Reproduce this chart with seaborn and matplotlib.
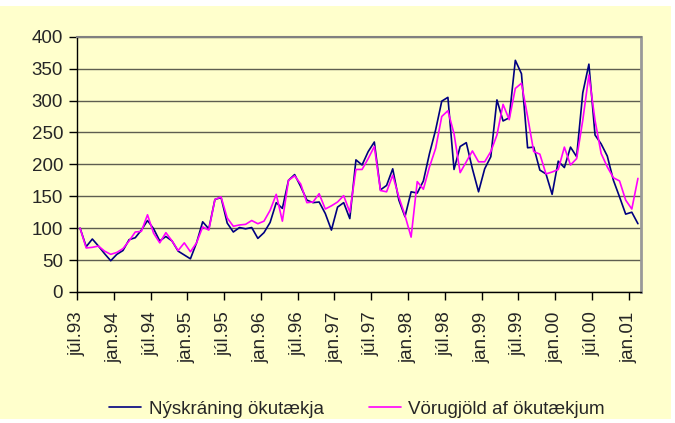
import numpy as np
import pandas as pd
import matplotlib.pyplot as plt
import matplotlib.patches as mpatches
import seaborn as sns

# monthly index, júl.93 = 100
nyskraning = [100, 71, 83, 72, 60, 49, 59, 65, 82, 85, 97, 112, 99, 80, 87, 80, 64, 58, 52, 77,
              110, 99, 145, 148, 108, 94, 101, 99, 101, 84, 93, 109, 140, 131, 175, 184, 165, 144, 140, 141,
              123, 97, 133, 140, 115, 207, 199, 220, 235, 160, 167, 193, 144, 118, 157, 155, 174, 217, 254, 299,
              305, 192, 228, 234, 193, 157, 193, 212, 301, 268, 273, 363, 342, 226, 227, 191, 185, 153, 205, 195,
              227, 212, 312, 357, 246, 232, 213, 175, 149, 122, 125, 107]
vorugjold = [100, 69, 70, 72, 64, 59, 62, 68, 80, 94, 95, 121, 92, 77, 93, 80, 65, 77, 63, 77,
             102, 97, 145, 149, 116, 103, 105, 106, 112, 107, 111, 128, 153, 111, 175, 182, 169, 140, 141, 154,
             130, 135, 141, 151, 125, 192, 192, 209, 228, 159, 157, 183, 149, 120, 86, 173, 161, 196, 225, 275,
             284, 248, 187, 204, 221, 204, 204, 220, 246, 294, 270, 319, 327, 275, 220, 216, 185, 188, 192, 227,
             199, 209, 269, 340, 269, 217, 196, 179, 174, 144, 130, 178]
tick_labels = ["júl.93", "jan.94", "júl.94", "jan.95", "júl.95", "jan.96", "júl.96", "jan.97",
               "júl.97", "jan.98", "júl.98", "jan.99", "júl.99", "jan.00", "júl.00", "jan.01"]
series_names = ["Nýskráning ökutækja", "Vörugjöld af ökutækjum"]
colors = ["#000080", "#FF00FF"]

n = len(nyskraning)
df = pd.DataFrame({
    "month": np.concatenate([np.arange(n), np.arange(n)]),
    "value": nyskraning + vorugjold,
    "series": [series_names[0]] * n + [series_names[1]] * n,
})

sns.set_style("white")
plt.rcParams['font.family'] = ['Liberation Sans', 'DejaVu Sans']

fig = plt.figure(figsize=(6.75, 4.23), dpi=100, facecolor="white")
# yellow chart area
fig.patches.append(mpatches.Rectangle((0, 4 / 423), 671 / 675, 413 / 423, transform=fig.transFigure,
                                      facecolor="#FFFFCC", edgecolor="none", zorder=-5))
ax = fig.add_axes([77 / 675, 1 - 292 / 423, (641 - 77) / 675, (292 - 36.7) / 423])
ax.set_facecolor("#FFFFCC")

sns.lineplot(data=df, x="month", y="value", hue="series", palette=colors, ax=ax,
             linewidth=1.2, legend=False)

ax.set_xlim(-0.5, n - 0.5)
ax.set_ylim(0, 400)
ax.set_yticks(np.arange(0, 401, 50))
ax.set_xticks([6 * k - 0.5 for k in range(len(tick_labels))])
ax.set_xticklabels(tick_labels, rotation=90, fontsize=13.5)
ax.tick_params(axis="y", labelsize=13.5, direction="out", length=6, width=1, color="black", left=True, pad=4)
ax.tick_params(axis="x", direction="out", length=6, width=1, color="black", bottom=True, pad=8)
ax.set_xlabel("")
ax.set_ylabel("")
ax.yaxis.grid(True, color="#5e5e50", linewidth=1)
ax.set_axisbelow(True)

ax.spines["left"].set_color("black")
ax.spines["bottom"].set_color("black")
ax.spines["left"].set_linewidth(1)
ax.spines["bottom"].set_linewidth(1)
ax.spines["top"].set_color("#808080")
ax.spines["right"].set_color("#999999")
ax.spines["top"].set_linewidth(1.5)
ax.spines["right"].set_linewidth(2)

handles = [plt.Line2D([], [], color=c, linewidth=1.2) for c in colors]
fig.legend(handles, series_names, loc="center", bbox_to_anchor=(357 / 675, 1 - 409 / 423), ncol=2,
           frameon=False, fontsize=13.5, handlelength=1.7, handletextpad=0.4, columnspacing=2.4)

fig.savefig("out.png", dpi=100, facecolor="white")
